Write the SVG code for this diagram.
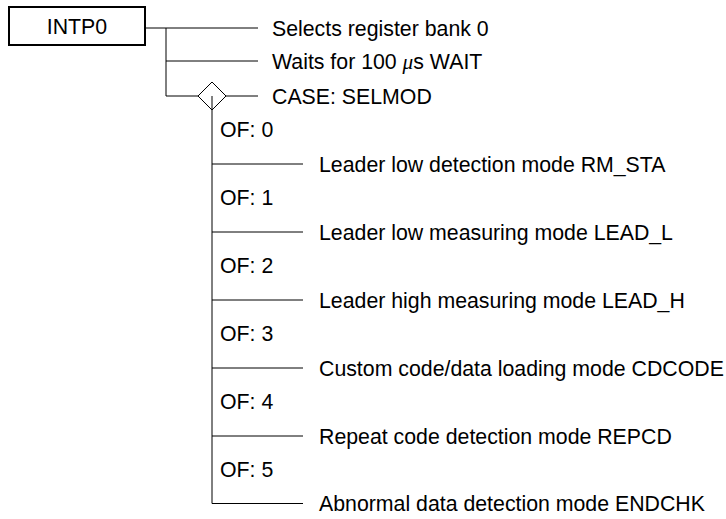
<svg xmlns="http://www.w3.org/2000/svg" width="726" height="519" viewBox="0 0 726 519">
<style>
text{font-family:"Liberation Sans",Arial,sans-serif;font-size:21.3px;fill:#000}
.ln{stroke:#000;stroke-width:1;fill:none}
</style>
<rect width="726" height="519" fill="#fff"/>
<g id="intp0">
<rect x="9" y="7" width="136" height="38" fill="#fff" stroke="#000" stroke-width="2"/>
<text x="77" y="33.5" text-anchor="middle">INTP0</text>
</g>
<g id="connectors" class="ln">
<path d="M145 28H258M166 28V96M166 61H258M166 96H198M226 96H258"/>
<path d="M212 96V503.5M212 164H303M212 232H303M212 300H303M212 368H303M212 436H303M212 503.5H303"/>
</g>
<g id="case">
<polygon points="212,82 226,96 212,110 198,96" fill="none" stroke="#000" stroke-width="1"/>
</g>
<g id="labels-top">
<text x="272" y="35.5">Selects register bank 0</text>
<text x="272" y="68.5">Waits for 100 <tspan font-family="Liberation Serif" font-style="italic">μ</tspan>s WAIT</text>
<text x="272" y="103.5">CASE: SELMOD</text>
</g>
<g id="branches">
<text x="220" y="137">OF: 0</text>
<text x="319" y="172">Leader low detection mode RM_STA</text>
<text x="220" y="205">OF: 1</text>
<text x="319" y="240">Leader low measuring mode LEAD_L</text>
<text x="220" y="273">OF: 2</text>
<text x="319" y="308">Leader high measuring mode LEAD_H</text>
<text x="220" y="341">OF: 3</text>
<text x="319" y="376">Custom code/data loading mode CDCODE</text>
<text x="220" y="409">OF: 4</text>
<text x="319" y="444">Repeat code detection mode REPCD</text>
<text x="220" y="477">OF: 5</text>
<text x="319" y="511">Abnormal data detection mode ENDCHK</text>
</g>
</svg>
